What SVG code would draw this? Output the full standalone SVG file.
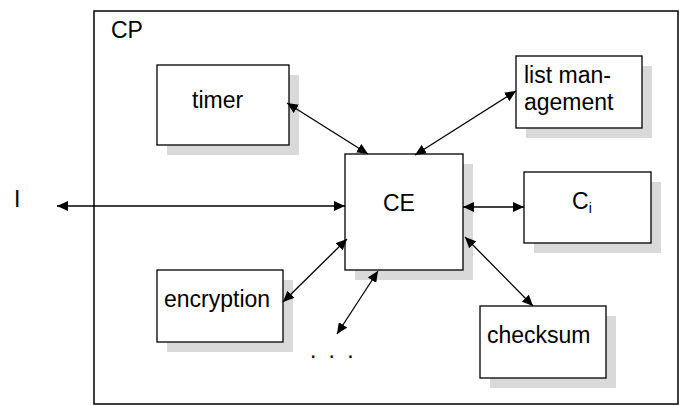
<svg xmlns="http://www.w3.org/2000/svg" width="683" height="406" viewBox="0 0 683 406">
<style>
text{font-family:"Liberation Sans",Arial,sans-serif;font-size:23px;fill:#000}
.box{fill:#fff;stroke:#000;stroke-width:1.3}
.sh{fill:#d9d9d9}
.ln{stroke:#000;stroke-width:1.3;fill:none;marker-start:url(#ah);marker-end:url(#ah)}
</style>
<defs>
<marker id="ah" markerUnits="userSpaceOnUse" markerWidth="11" markerHeight="10" refX="11" refY="5" orient="auto-start-reverse" viewBox="0 0 11 10">
<path d="M0,0 L11,5 L0,10 z" fill="#000"/>
</marker>
</defs>
<rect width="683" height="406" fill="#fff"/>
<g id="CP">
<rect x="94" y="11" width="584" height="393" fill="none" stroke="#000" stroke-width="1.5"/>
<text x="111" y="38">CP</text>
</g>
<g id="timer">
<rect class="sh" x="167" y="75" width="132" height="80"/>
<rect class="box" x="157" y="65" width="132" height="80"/>
<text x="192" y="108">timer</text>
</g>
<g id="listmgmt">
<rect class="sh" x="526" y="66" width="126" height="72"/>
<rect class="box" x="516" y="56" width="126" height="72"/>
<text x="524" y="83">list man-</text>
<text x="524" y="110">agement</text>
</g>
<g id="CE">
<rect class="sh" x="355" y="164" width="118" height="116"/>
<rect class="box" x="345" y="154" width="118" height="116"/>
<text x="383" y="211">CE</text>
</g>
<g id="Ci">
<rect class="sh" x="534" y="182" width="127" height="71"/>
<rect class="box" x="524" y="172" width="127" height="71"/>
<text x="572" y="209">C<tspan font-size="14" dy="4">i</tspan></text>
</g>
<g id="encryption">
<rect class="sh" x="167" y="280" width="126" height="72"/>
<rect class="box" x="157" y="270" width="126" height="72"/>
<text x="164" y="307">encryption</text>
</g>
<g id="checksum">
<rect class="sh" x="490" y="316" width="126" height="72"/>
<rect class="box" x="480" y="306" width="126" height="72"/>
<text x="487" y="343">checksum</text>
</g>
<g id="I">
<text x="14" y="207">I</text>
</g>
<g id="dots">
<text x="310" y="358" letter-spacing="2.9">. . .</text>
</g>
<g id="connectors">
<line class="ln" x1="57" y1="206" x2="345" y2="206"/>
<line class="ln" x1="287" y1="103" x2="368" y2="154"/>
<line class="ln" x1="415" y1="155" x2="516" y2="91"/>
<line class="ln" x1="463" y1="207" x2="524" y2="207"/>
<line class="ln" x1="465" y1="237" x2="533" y2="306"/>
<line class="ln" x1="283" y1="302" x2="347" y2="239"/>
<line class="ln" x1="378" y1="271" x2="337" y2="334"/>
</g>
</svg>
